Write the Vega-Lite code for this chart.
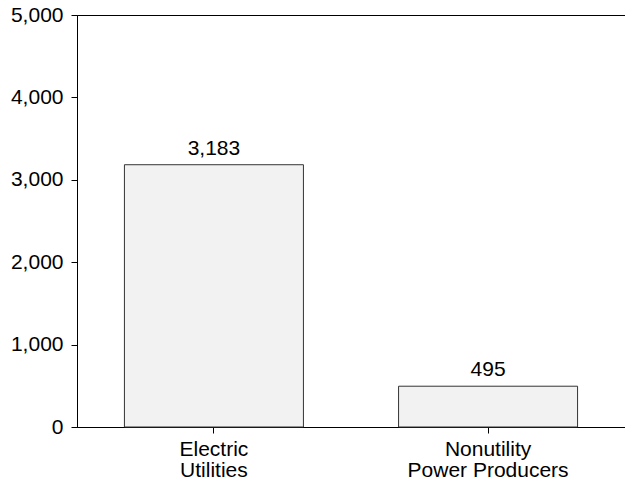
{
  "$schema": "https://vega.github.io/schema/vega-lite/v6.json",
  "width": 548,
  "height": 412,
  "autosize": {"type": "none"},
  "padding": {"left": 77, "top": 15, "right": 0, "bottom": 57},
  "background": "white",
  "config": {
    "view": {"stroke": "#000", "strokeWidth": 1},
    "font": "Liberation Sans"
  },
  "data": {
    "values": [
      {"category": "Electric Utilities", "value": 3183},
      {"category": "Nonutility Power Producers", "value": 495}
    ]
  },
  "encoding": {
    "x": {
      "field": "category",
      "type": "nominal",
      "sort": null,
      "scale": {"paddingInner": 0.347, "paddingOuter": 0.173},
      "axis": {
        "title": null,
        "labelAngle": 0,
        "labelFont": "Liberation Sans",
        "labelFontSize": 21,
        "labelColor": "#000",
        "labelLineHeight": 21,
        "labelPadding": 5,
        "tickSize": 6,
        "tickColor": "#000",
        "domainColor": "#000",
        "labelExpr": "datum.label == 'Electric Utilities' ? ['Electric', 'Utilities'] : ['Nonutility', 'Power Producers']"
      }
    },
    "y": {
      "field": "value",
      "type": "quantitative",
      "scale": {"domain": [0, 5000], "nice": false},
      "axis": {
        "title": null,
        "values": [0, 1000, 2000, 3000, 4000, 5000],
        "format": ",d",
        "grid": false,
        "labelFont": "Liberation Sans",
        "labelFontSize": 21,
        "labelColor": "#000",
        "labelPadding": 8,
        "tickSize": 6,
        "tickColor": "#000",
        "domainColor": "#000"
      }
    }
  },
  "layer": [
    {
      "mark": {"type": "bar", "fill": "#f2f2f2", "stroke": "#333", "strokeWidth": 1}
    },
    {
      "mark": {"type": "text", "baseline": "bottom", "dy": -6, "fontSize": 21, "font": "Liberation Sans", "color": "#000"},
      "encoding": {
        "text": {"field": "value", "type": "quantitative", "format": ",d"}
      }
    }
  ]
}
